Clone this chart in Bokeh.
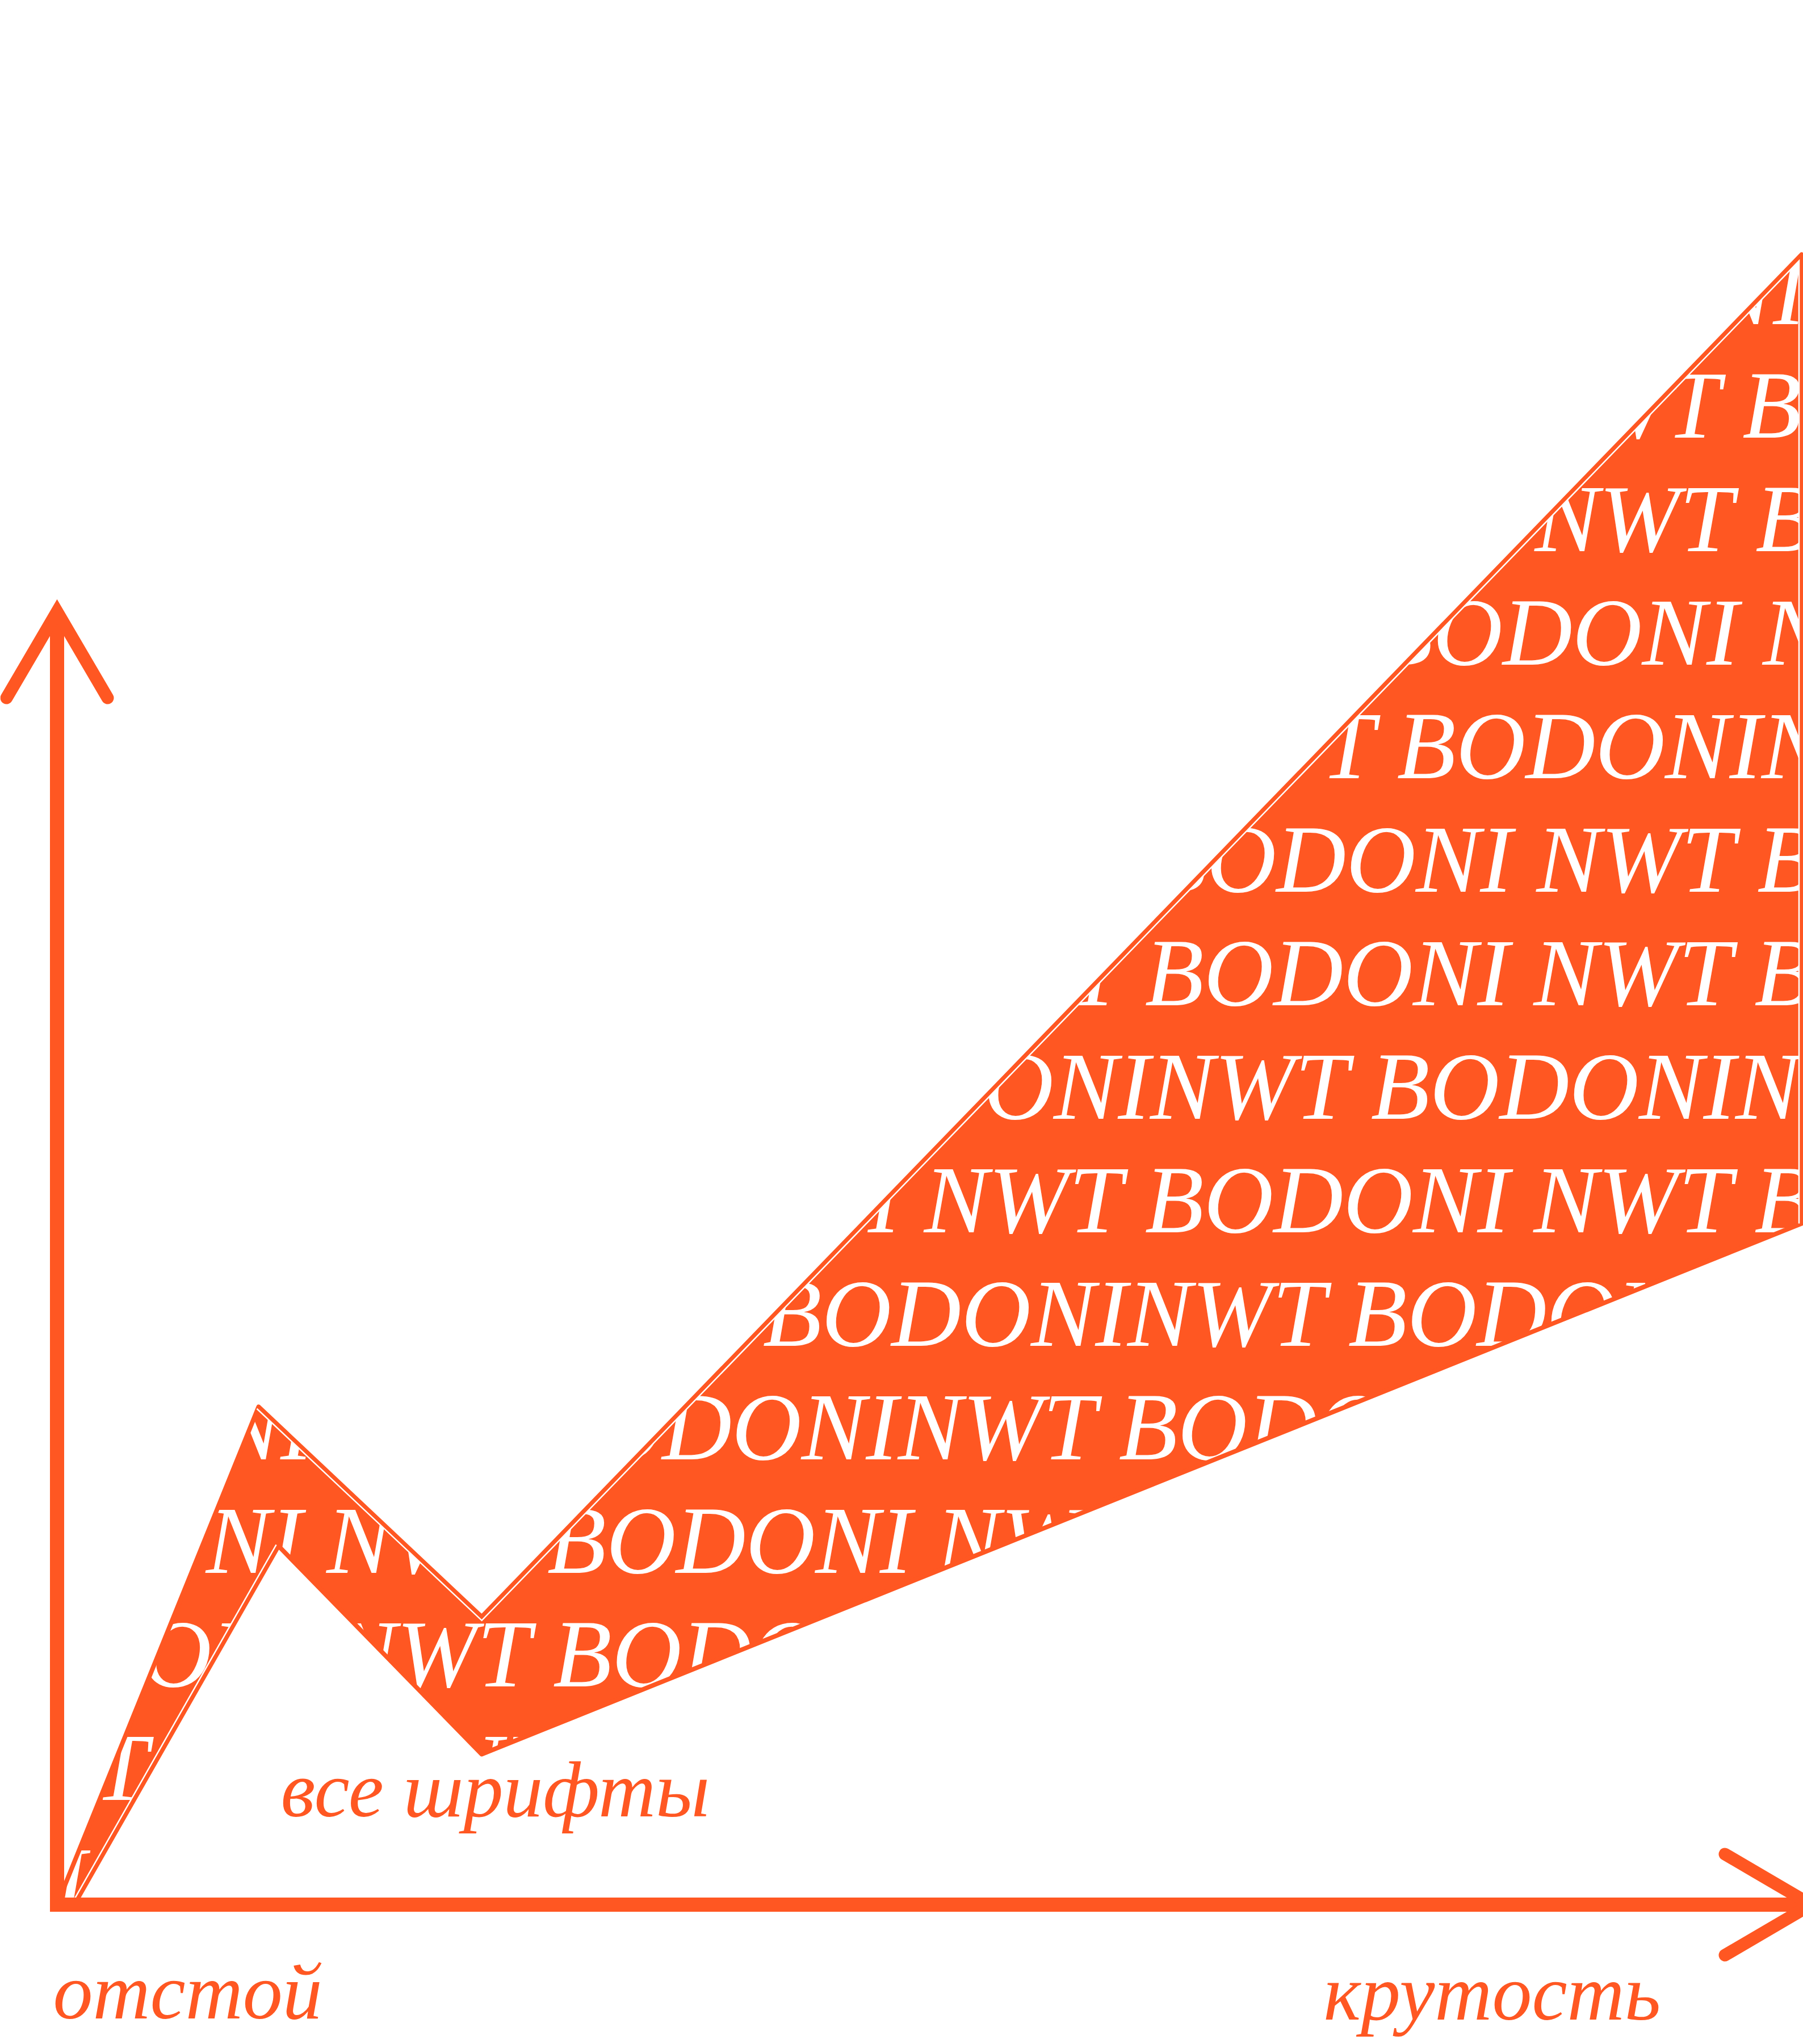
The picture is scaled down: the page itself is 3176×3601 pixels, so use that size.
import numpy as np
from bokeh.plotting import figure
from bokeh.models import Range1d, ColumnDataSource
from bokeh.core.properties import value
from bokeh.embed import file_html
from bokeh.resources import INLINE

ORANGE = "#FF5722"
FONT = "Liberation Serif"

# ---- data (1 unit = 10 px, origin at the corner of the two axes) ----
# upper edge of the band: start, first peak, valley, right end
upper_x = [0.0, 35.5, 74.8, 307.3]
upper_y = [0.0, 87.7, 50.7, 290.7]
# lower edge of the band
lower_x = [3.3, 39.0, 74.8, 307.3]
lower_y = [0.5, 63.2, 26.5, 120.0]

# rows of the "BODONI NWT" pattern inside the band
row_y = [278.5, 258.5, 238.5, 218.5, 198.5, 178.5, 158.5, 138.5,
         118.5, 98.5, 78.5, 58.5, 38.5, 18.5, -1.5]
row_x = [-78.4, -25.2, -22.9, -90.1, -73.3, -22.6, -23.1, -77.9,
         -23.1, -81.9, -19.2, -21.0, -20.0, -87.4, -59.0]
A = "BODONI NWT " * 4
B = "BODONINWT " * 4
row_text = [A, A, A, A, B, A, A, B, A, B, B, A, A, A, A]

# axis arrows
y_tip = 227.8
x_tip = 309.0
head_back = 15.2
head_half = 8.9

# labels
label_text = ["отстой", "крутость", "все шрифты"]
label_x = [-0.7, 223.1, 39.4]
label_y = [-19.3, -19.5, 16.3]

XMIN, XMAX = -10.0, 307.6
YMIN, YMAX = -24.6, 335.5

p = figure(width=3176, height=3601,
           x_range=Range1d(XMIN, XMAX), y_range=Range1d(YMIN, YMAX),
           output_backend="svg", toolbar_location=None,
           x_axis_type=None, y_axis_type=None, min_border=0,
           outline_line_color=None, background_fill_color="white",
           border_fill_color="white")

# band fill
band_x = upper_x + lower_x[::-1]
band_y = upper_y + lower_y[::-1]
p.patch(band_x, band_y, fill_color=ORANGE, line_color=None)

# text rows
rows = ColumnDataSource(dict(x=row_x, y=row_y, text=row_text))
p.text(x="x", y="y", text="text", source=rows, text_color="white",
       text_font=value(FONT), text_font_style="italic",
       text_font_size="170px", text_baseline="alphabetic", text_align="left",
       y_offset=-57)

# masks outside the band (hide the text there)
pad = 5.0
above_x = [XMIN - pad, XMAX + pad, XMAX + pad, upper_x[-1]] + upper_x[::-1] + [XMIN - pad]
above_y = [YMAX + pad, YMAX + pad, lower_y[-1], lower_y[-1]] + upper_y[::-1] + [upper_y[0]]
below_x = [XMIN - pad, upper_x[0]] + lower_x + [XMAX + pad, XMAX + pad, XMIN - pad]
below_y = [upper_y[0], upper_y[0]] + lower_y + [lower_y[-1], YMIN - pad, YMIN - pad]
p.patch(above_x, above_y, fill_color="white", line_color=None)
p.patch(below_x, below_y, fill_color="white", line_color=None)

# orange edge of the band
p.patch(band_x, band_y, fill_color=None, line_color=ORANGE, line_width=8,
        line_join="round")


def inset(xs, ys, d):
    pts = np.column_stack([xs, ys]).astype(float)
    seg = np.diff(pts, axis=0)
    n = np.column_stack([seg[:, 1], -seg[:, 0]])
    n /= np.linalg.norm(n, axis=1)[:, None]
    out = [pts[0] + d * n[0]]
    for i in range(1, len(pts) - 1):
        n1, n2 = n[i - 1], n[i]
        out.append(pts[i] + d * (n1 + n2) / (1.0 + n1 @ n2))
    out.append(pts[-1] + d * n[-1])
    out = np.array(out)
    return list(out[:, 0]), list(out[:, 1])


# thin white rules just inside some edges of the band
wx1, wy1 = inset(upper_x[1:] + [lower_x[-1]], upper_y[1:] + [lower_y[-1]], 0.45)
wx2, wy2 = inset([lower_x[1], lower_x[0]], [lower_y[1], lower_y[0]], 0.45)
p.multi_line([wx1, wx2], [wy1, wy2], line_color="white", line_width=2.5,
             line_join="miter")

# axes
axis_w = 25
half = axis_w / 20.0
p.line([0, 0], [-half, y_tip - 1.0], line_color=ORANGE, line_width=axis_w)
p.line([-half, x_tip - 1.0], [0, 0], line_color=ORANGE, line_width=axis_w)
p.line([-head_half, 0, head_half], [y_tip - head_back, y_tip, y_tip - head_back],
       line_color=ORANGE, line_width=22, line_cap="round", line_join="miter")
p.line([x_tip - head_back, x_tip, x_tip - head_back], [head_half, 0, -head_half],
       line_color=ORANGE, line_width=22, line_cap="round", line_join="miter")

# labels
labels = ColumnDataSource(dict(x=label_x, y=label_y, text=label_text))
p.text(x="x", y="y", text="text", source=labels, text_color=ORANGE,
       text_font=value(FONT), text_font_style="italic",
       text_font_size="140px", text_baseline="alphabetic", text_align="left",
       y_offset=-40)

open("out.html", "w").write(file_html(p, INLINE))
